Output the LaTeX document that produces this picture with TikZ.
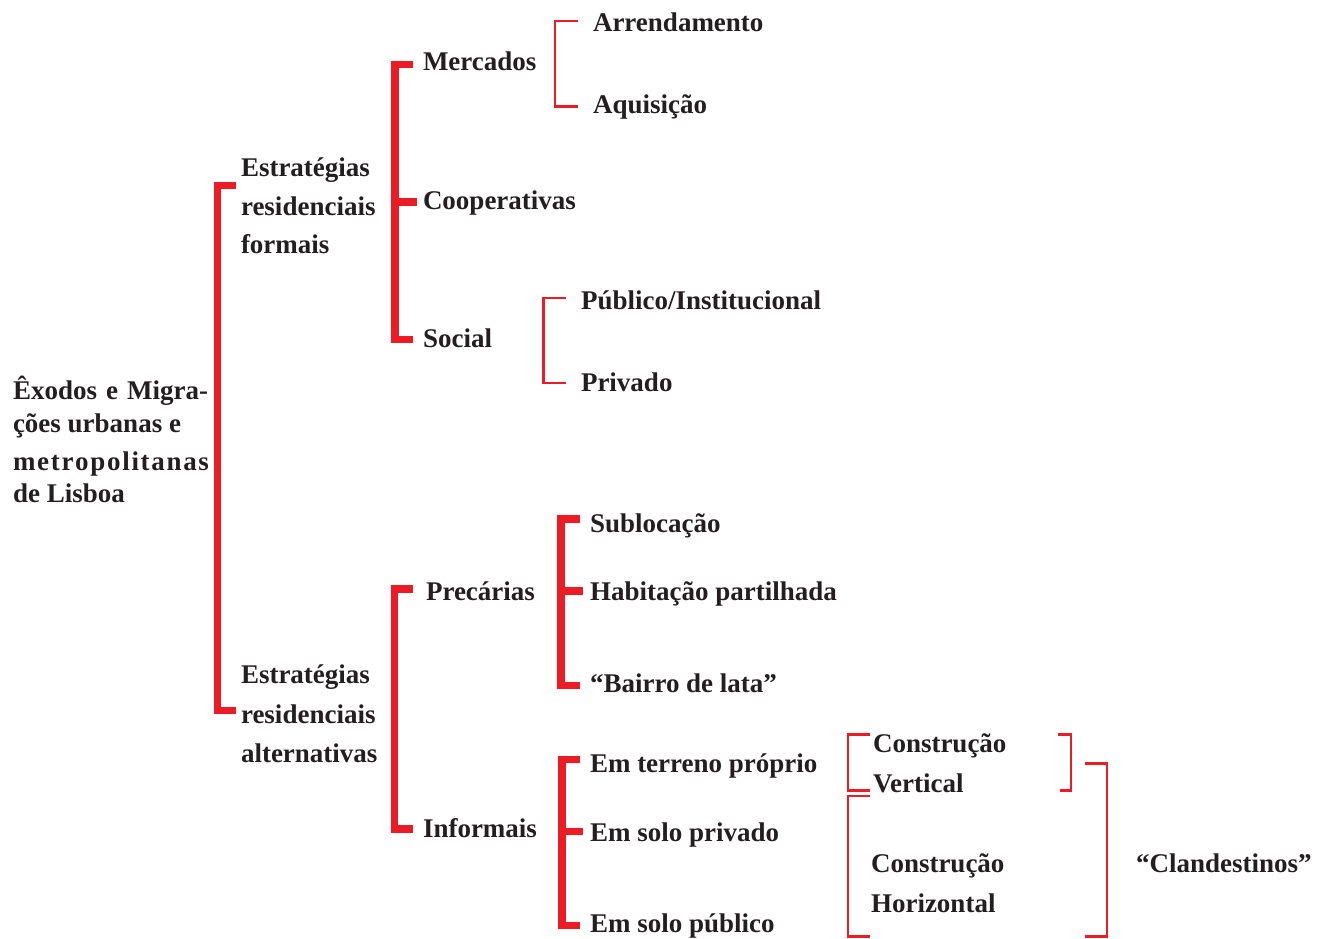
\documentclass[tikz,border=0pt]{standalone}
\usepackage{fontspec}
\setmainfont{Liberation Serif}
\definecolor{bred}{RGB}{237,28,36}
\definecolor{ink}{RGB}{35,31,32}
\tikzset{
  lbl/.style={anchor=base west, inner sep=0pt, outer sep=0pt, text=ink,
    font=\bfseries\fontsize{27}{32}\selectfont},
  mainlbl/.style={anchor=base west, inner sep=0pt, outer sep=0pt, text=ink,
    font=\bfseries\fontsize{27}{33}\selectfont},
  thick bracket/.style={draw=bred, line width=7.5pt, line join=miter, line cap=butt},
  thin bracket/.style={draw=bred, line width=2.6pt, line join=miter, line cap=butt},
}
\begin{document}
\begin{tikzpicture}[x=1pt,y=-1pt]
\useasboundingbox (0,0) rectangle (1320,939);

% main label
\node[mainlbl] (m1) at (13,399) {\makebox[195pt][s]{Êxodos e Migra-}};
\node[mainlbl] (m2) at (13,432) {ções urbanas e};
\node[mainlbl] (m3) at (13,470) {\hbox to 196pt{m\hfil e\hfil t\hfil r\hfil o\hfil p\hfil o\hfil l\hfil i\hfil t\hfil a\hfil n\hfil a\hfil s}};
\node[mainlbl] (m4) at (13,502) {de Lisboa};

% level 1
\node[lbl] (f1) at (241,176) {Estratégias};
\node[lbl] (f2) at (241,215) {residenciais};
\node[lbl] (f3) at (241,253) {formais};
\node[lbl] (a1) at (241,683) {Estratégias};
\node[lbl] (a2) at (241,723) {residenciais};
\node[lbl] (a3) at (241,762) {alternativas};

% level 2
\node[lbl] (merc) at (423,71) {Mercados};
\node[lbl] (coop) at (423,209) {Cooperativas};
\node[lbl] (soc) at (423,347) {Social};
\node[lbl] (prec) at (426,600) {Precárias};
\node[lbl] (inf) at (423,837) {Informais};

% level 3
\node[lbl] (arr) at (593,32) {Arrendamento};
\node[lbl] (aqu) at (593,114) {Aquisição};
\node[lbl] (pub) at (581,309) {Público/Institucional};
\node[lbl] (priv) at (581,391) {Privado};
\node[lbl] (sub) at (590,532) {Sublocação};
\node[lbl] (hab) at (590,600) {Habitação partilhada};
\node[lbl] (bai) at (590,692) {“Bairro de lata”};
\node[lbl] (ter) at (590,772) {Em terreno próprio};
\node[lbl] (spr) at (590,841) {Em solo privado};
\node[lbl] (spu) at (590,932) {Em solo público};

% level 4
\node[lbl] (cv1) at (873,752) {Construção};
\node[lbl] (cv2) at (873,792) {Vertical};
\node[lbl] (ch1) at (871,872) {Construção};
\node[lbl] (ch2) at (871,912) {Horizontal};
\node[lbl] (cla) at (1136,872) {“Clandestinos”};

% thick brackets
\draw[thick bracket] (236,185.5) -- (217.5,185.5) -- (217.5,710.5) -- (236,710.5);
\draw[thick bracket] (413,64.5) -- (395,64.5) -- (395,339.5) -- (413,339.5);
\draw[thick bracket] (395,202) -- (417,202);
\draw[thick bracket] (413,589) -- (394.5,589) -- (394.5,829) -- (413,829);
\draw[thick bracket] (580,519) -- (561,519) -- (561,685.5) -- (580,685.5);
\draw[thick bracket] (561,591) -- (583,591);
\draw[thick bracket] (580,759.5) -- (562,759.5) -- (562,925.5) -- (580,925.5);
\draw[thick bracket] (562,831.5) -- (583,831.5);

% thin brackets
\draw[thin bracket] (578,21) -- (555,21) -- (555,106.5) -- (578,106.5);
\draw[thin bracket] (566,298) -- (543.5,298) -- (543.5,383) -- (566,383);
\draw[thin bracket] (870,734.5) -- (848,734.5) -- (848,790.5) -- (870,790.5);
\draw[thin bracket] (1058,734.5) -- (1071,734.5) -- (1071,790.5) -- (1060,790.5);
\draw[thin bracket] (870,796) -- (848,796) -- (848,936.5) -- (870,936.5);
\draw[thin bracket] (1085,763.5) -- (1107,763.5) -- (1107,936.5) -- (1085,936.5);
\end{tikzpicture}
\end{document}
